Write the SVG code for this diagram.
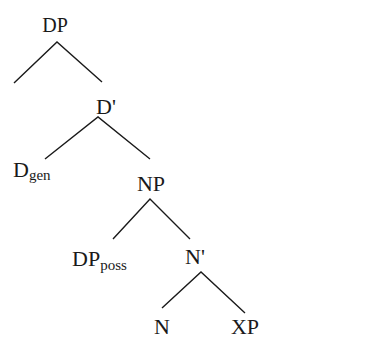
<svg xmlns="http://www.w3.org/2000/svg" width="383" height="338" viewBox="0 0 383 338">
<style>
.t{font-family:"Liberation Serif","Times New Roman",serif;font-size:22px;fill:#1a1a1a}
.s{font-size:15px}
.e{stroke:#1a1a1a;stroke-width:1.4;fill:none}
</style>
<rect width="383" height="338" fill="#ffffff"/>
<g id="edges">
<path class="e" d="M14,83 L57,42 L102,82"/>
<path class="e" d="M45,159 L98,117 L150,159"/>
<path class="e" d="M113,239 L150,199 L190,239"/>
<path class="e" d="M162,308 L201,272 L245,313"/>
</g>
<g id="DP"><text class="t" x="55" y="32" text-anchor="middle" style="font-size:20px">DP</text></g>
<g id="Dbar"><text class="t" x="106" y="114" text-anchor="middle">D'</text></g>
<g id="Dgen"><text class="t" x="13" y="177">D<tspan class="s" dy="3">gen</tspan></text></g>
<g id="NP"><text class="t" x="151" y="191" text-anchor="middle">NP</text></g>
<g id="DPposs"><text class="t" x="72" y="266">DP<tspan class="s" dy="4">poss</tspan></text></g>
<g id="Nbar"><text class="t" x="195" y="264" text-anchor="middle">N'</text></g>
<g id="N"><text class="t" x="162" y="334" text-anchor="middle">N</text></g>
<g id="XP"><text class="t" x="245" y="334" text-anchor="middle">XP</text></g>
</svg>
